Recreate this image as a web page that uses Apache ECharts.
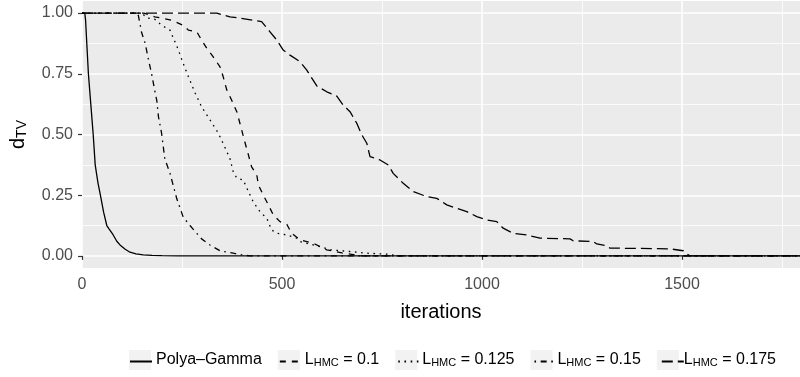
<!DOCTYPE html>
<html>
<head>
<meta charset="utf-8">
<script src="https://cdn.jsdelivr.net/npm/echarts@6/dist/echarts.min.js"></script>
<style>
html, body { margin: 0; padding: 0; background: #fff; }
#main { width: 800px; height: 377px; }
</style>
</head>
<body>
<div id="main"></div>
<script>
// series names, in legend order
var seriesNames = ['Polya–Gamma', 'L_HMC=0.1', 'L_HMC=0.125', 'L_HMC=0.15', 'L_HMC=0.175'];

// Polya-Gamma (solid)
var pgX = [0, 7, 9, 12, 16, 22, 28, 33, 40, 46, 54, 62, 68, 78, 87, 95, 108, 120, 135, 153, 175, 200, 240, 1800];
var pgY = [1, 1, 0.97, 0.875, 0.75, 0.625, 0.5, 0.375, 0.30, 0.25, 0.18, 0.125, 0.11, 0.086, 0.06, 0.045, 0.027, 0.015, 0.008, 0.004, 0.002, 0.001, 0, 0];

// L_HMC = 0.1 (dashed)
var dsX = [0, 155, 182, 224, 253, 266, 287, 299, 312, 328, 345, 353, 362, 374, 387, 399, 407, 416, 424, 437, 441, 453, 466, 478, 495, 512, 524, 545, 578, 612, 650, 700, 1800];
var dsY = [1, 1, 0.985, 0.971, 0.95, 0.93, 0.923, 0.889, 0.855, 0.82, 0.779, 0.738, 0.683, 0.642, 0.594, 0.52, 0.47, 0.416, 0.367, 0.333, 0.292, 0.251, 0.21, 0.169, 0.141, 0.13, 0.093, 0.066, 0.052, 0.025, 0.012, 0, 0];

// L_HMC = 0.125 (dotted)
var dtX = [0, 150, 162, 182, 199, 220, 241, 253, 266, 283, 299, 320, 341, 362, 370, 378, 387, 403, 416, 428, 445, 462, 474, 487, 512, 537, 545, 595, 620, 670, 712, 762, 790, 1800];
var dtY = [1, 1, 0.98, 0.975, 0.95, 0.93, 0.848, 0.793, 0.738, 0.67, 0.614, 0.56, 0.505, 0.43, 0.40, 0.347, 0.32, 0.313, 0.265, 0.223, 0.182, 0.155, 0.107, 0.093, 0.086, 0.073, 0.059, 0.038, 0.025, 0.018, 0.011, 0.007, 0, 0];

// L_HMC = 0.15 (dotdash)
var ddX = [0, 135, 141, 149, 158, 166, 174, 182, 187, 191, 199, 207, 220, 237, 253, 270, 283, 299, 320, 345, 378, 399, 420, 1800];
var ddY = [1, 1, 0.99, 0.92, 0.875, 0.81, 0.75, 0.68, 0.64, 0.575, 0.505, 0.40, 0.34, 0.235, 0.16, 0.125, 0.10, 0.07, 0.045, 0.021, 0.011, 0.004, 0, 0];

// L_HMC = 0.175 (longdash)
var ldX = [0, 337, 370, 428, 449, 470, 487, 503, 520, 545, 562, 587, 612, 637, 653, 670, 687, 699, 712, 720, 745, 766, 778, 803, 828, 862, 887, 912, 937, 962, 987, 1012, 1037, 1053, 1078, 1112, 1145, 1220, 1228, 1278, 1287, 1312, 1320, 1470, 1474, 1503, 1512, 1520, 1800];
var ldY = [1, 1, 0.985, 0.971, 0.965, 0.923, 0.889, 0.848, 0.827, 0.80, 0.765, 0.70, 0.676, 0.658, 0.621, 0.594, 0.546, 0.50, 0.464, 0.409, 0.395, 0.374, 0.34, 0.299, 0.265, 0.244, 0.237, 0.21, 0.196, 0.182, 0.162, 0.148, 0.141, 0.114, 0.093, 0.086, 0.073, 0.07, 0.062, 0.059, 0.049, 0.041, 0.032, 0.029, 0.022, 0.021, 0.008, 0, 0];

var dashTypes = ['solid', [6, 6], [1.6, 4.6], [1.6, 4.6, 6, 4.6], [11, 5]];
var FONT = 'Liberation Sans, Arial, sans-serif';

function pairs(xs, ys) {
    var out = [];
    for (var i = 0; i < xs.length; i++) out.push([xs[i], ys[i]]);
    return out;
}

var allX = [pgX, dsX, dtX, ddX, ldX];
var allY = [pgY, dsY, dtY, ddY, ldY];

var series = [];
for (var k = 0; k < seriesNames.length; k++) {
    series.push({
        name: seriesNames[k],
        type: 'line',
        xAxisIndex: 0,
        yAxisIndex: 0,
        data: pairs(allX[k], allY[k]),
        symbol: 'none',
        showSymbol: false,
        lineStyle: { color: '#000', width: 1.3, type: dashTypes[k] },
        itemStyle: { color: '#000' },
        emphasis: { disabled: true }
    });
}

// legend text: L with HMC as subscript
function legendRich(col) {
    return {
        n: { fontSize: 16, color: col, fontFamily: FONT },
        s: { fontSize: 11, color: col, fontFamily: FONT, padding: [6, 0, 0, 0] }
    };
}
function legendLabel(name) {
    if (name.indexOf('L_HMC') === 0) {
        return '{n|L}{s|HMC}{n| = ' + name.split('=')[1] + '}';
    }
    return '{n|' + name + '}';
}
var legendBase = {
    data: seriesNames,
    bottom: 2,
    left: 124,
    itemWidth: 22,
    itemHeight: 20,
    itemGap: 16,
    selectedMode: false,
    formatter: legendLabel
};

var chart = echarts.init(document.getElementById('main'));
var option = {
    animation: false,
    textStyle: { fontFamily: FONT },
    grid: [
        // full panel (with ggplot's 5% y expansion)
        { left: 82, width: 800, top: 1, bottom: 109, show: true, backgroundColor: '#EBEBEB', borderWidth: 0, outerBoundsMode: 'none' },
        // 0..1 band for y ticks / horizontal grid
        { left: 82, right: 0, top: 13, bottom: 121, show: false, outerBoundsMode: 'none' }
    ],
    xAxis: [{
        gridIndex: 0, type: 'value', min: 0, max: 2000, interval: 500,
        axisLine: { show: false },
        axisTick: { show: true, length: 4, lineStyle: { color: '#333333', width: 1.2 } },
        axisLabel: {
            color: '#4D4D4D', fontSize: 16, margin: 9, fontFamily: FONT,
            formatter: function (v) { return String(v); }
        },
        splitLine: { show: true, lineStyle: { color: '#FFFFFF', width: 1.6 } },
        minorTick: { show: false, splitNumber: 2 },
        minorSplitLine: { show: true, lineStyle: { color: '#FFFFFF', width: 0.8 } }
    }, {
        gridIndex: 1, type: 'value', min: 0, max: 1795,
        name: 'iterations', nameLocation: 'middle', nameGap: 46,
        nameTextStyle: { color: '#000', fontSize: 20, fontFamily: FONT },
        axisLine: { show: false }, axisTick: { show: false },
        axisLabel: { show: false }, splitLine: { show: false }
    }],
    yAxis: [{
        gridIndex: 0, type: 'value', min: -0.05, max: 1.05, show: false,
        splitLine: { show: false }
    }, {
        gridIndex: 1, type: 'value', min: 0, max: 1, interval: 0.25,
        name: '{n|d}{s|TV}', nameLocation: 'middle', nameRotate: 90, nameGap: 53,
        nameTextStyle: {
            color: '#000', fontFamily: FONT,
            rich: {
                n: { fontSize: 20, color: '#000', fontFamily: FONT },
                s: { fontSize: 14, color: '#000', fontFamily: FONT, padding: [8, 0, 0, 0] }
            }
        },
        axisLine: { show: false },
        axisTick: { show: true, length: 4, lineStyle: { color: '#333333', width: 1.2 } },
        axisLabel: {
            color: '#4D4D4D', fontSize: 16, margin: 9, fontFamily: FONT,
            formatter: function (v) { return v.toFixed(2); }
        },
        splitLine: { show: true, lineStyle: { color: '#FFFFFF', width: 1.6 } },
        minorTick: { show: false, splitNumber: 2 },
        minorSplitLine: { show: true, lineStyle: { color: '#FFFFFF', width: 0.8 } }
    }],
    legend: [
        // key backgrounds + labels
        Object.assign({}, legendBase, {
            icon: 'rect',
            itemStyle: { color: '#F2F2F2', borderWidth: 0 },
            textStyle: { color: '#000', fontSize: 16, fontFamily: FONT, rich: legendRich('#000') }
        }),
        // line keys drawn over the backgrounds
        Object.assign({}, legendBase, {
            z: 6,
            itemStyle: { opacity: 0 },
            textStyle: { color: 'rgba(0,0,0,0)', fontSize: 16, fontFamily: FONT, rich: legendRich('rgba(0,0,0,0)') }
        })
    ],
    series: series
};
chart.setOption(option);
</script>
</body>
</html>
